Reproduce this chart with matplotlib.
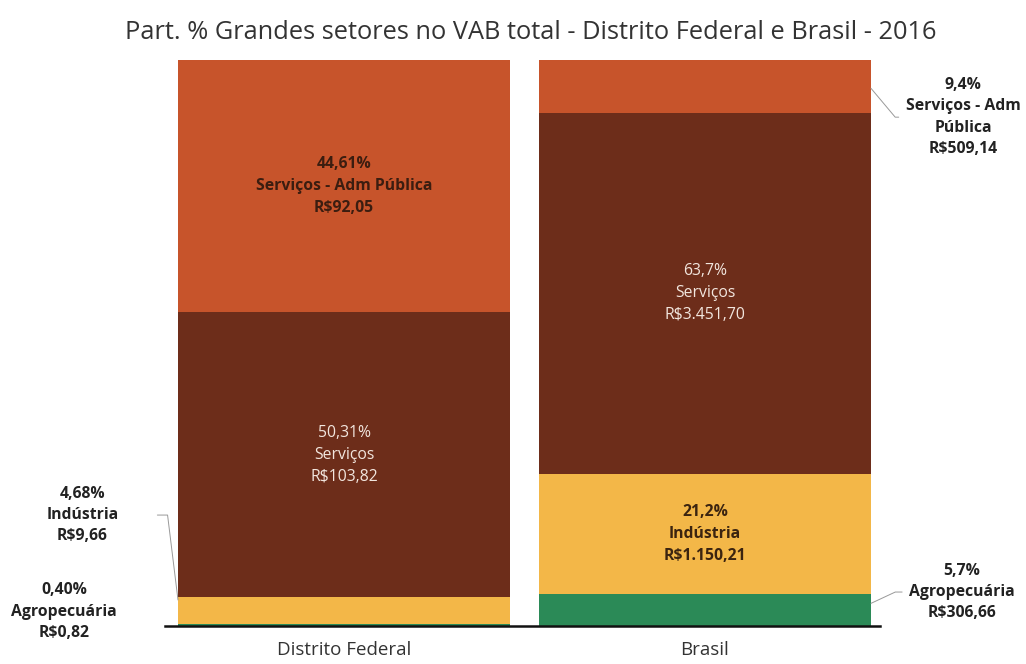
import matplotlib.pyplot as plt

plt.rcParams['font.family'] = ['Open Sans', 'DejaVu Sans']

regioes = ['Distrito Federal', 'Brasil']
setores = ['Agropecuária', 'Indústria', 'Serviços', 'Serviços - Adm Pública']
part_df = [0.40, 4.68, 50.31, 44.61]
part_br = [5.7, 21.2, 63.7, 9.4]
rotulos_df = ['0,40%', '4,68%', '50,31%', '44,61%']
rotulos_br = ['5,7%', '21,2%', '63,7%', '9,4%']
valores_df = ['R$0,82', 'R$9,66', 'R$103,82', 'R$92,05']
valores_br = ['R$306,66', 'R$1.150,21', 'R$3.451,70', 'R$509,14']
cores = ['#2B8A57', '#F3B748', '#6D2D1A', '#C7542B']

fig = plt.figure(figsize=(10.26, 6.64), dpi=100)
ax = fig.add_axes([165 / 1026, 38 / 664, 715 / 1026, 566 / 664])

w = 0.92
base = [0, 0]
for i in range(4):
    vals = [part_df[i], part_br[i]]
    ax.bar([0, 1], vals, width=w, bottom=base, color=cores[i], edgecolor='none')
    base = [base[0] + vals[0], base[1] + vals[1]]

def centro(partes, i):
    return sum(partes[:i]) + partes[i] / 2

def rotulo(p, s, v):
    return f'{p}\n{s}\n{v}'

# rótulos dentro das barras
esc = dict(ha='center', va='center', fontsize=11.3, fontweight='bold', linespacing=1.5)
cla = dict(ha='center', va='center', fontsize=11.3, color='#f2e6de', linespacing=1.5)
ax.text(0, centro(part_df, 3), rotulo(rotulos_df[3], setores[3], valores_df[3]), color='#3b1d10', **esc)
ax.text(0, centro(part_df, 2), rotulo(rotulos_df[2], setores[2], valores_df[2]), **cla)
ax.text(1, centro(part_br, 2), rotulo(rotulos_br[2], setores[2], valores_br[2]), **cla)
ax.text(1, centro(part_br, 1), rotulo(rotulos_br[1], setores[1], valores_br[1]), color='#3b2410', **esc)

# rótulos fora das barras
kw = dict(fontsize=11.3, fontweight='bold', color='#222222', linespacing=1.45, ha='center', va='center',
          annotation_clip=False)
linha = dict(arrowstyle='-', color='#999999', lw=0.7, shrinkB=0)
ax.annotate(rotulo(rotulos_df[1], setores[1], valores_df[1]), xy=(-w / 2, 4.6),
            xytext=(-0.725, 19.6),
            arrowprops=dict(linha, shrinkA=26, connectionstyle='angle,angleA=0,angleB=97,rad=0'), **kw)
ax.annotate(rotulo(rotulos_df[0], setores[0], valores_df[0]), xy=(-w / 2, centro(part_df, 0)),
            xytext=(-0.776, 2.5), **kw)
ax.annotate(rotulo(rotulos_br[3], setores[3].replace('Adm ', 'Adm\n'), valores_br[3]),
            xy=(1 + w / 2, 95.0), xytext=(1.715, 89.9),
            arrowprops=dict(linha, shrinkA=3, connectionstyle='angle,angleA=0,angleB=130,rad=0'), **kw)
ax.annotate(rotulo(rotulos_br[0], setores[0], valores_br[0]), xy=(1 + w / 2, 4.0),
            xytext=(1.712, 6.0),
            arrowprops=dict(linha, shrinkA=3, connectionstyle='angle,angleA=0,angleB=25,rad=0'), **kw)

ax.set_xlim(-0.496, 1.485)
ax.set_ylim(0, 100)
ax.set_xticks([0, 1])
ax.set_xticklabels(regioes, fontsize=13.5, color='#333333')
ax.tick_params(axis='x', length=0, pad=11)
ax.set_yticks([])
for s in ['top', 'right', 'left']:
    ax.spines[s].set_visible(False)
ax.spines['bottom'].set_linewidth(1.8)
ax.spines['bottom'].set_color('#111111')

fig.text(0.517, 0.951, 'Part. % Grandes setores no VAB total - Distrito Federal e Brasil - 2016',
         ha='center', va='center', fontsize=18.3, color='#333333')

fig.savefig('out.png', dpi=100)
